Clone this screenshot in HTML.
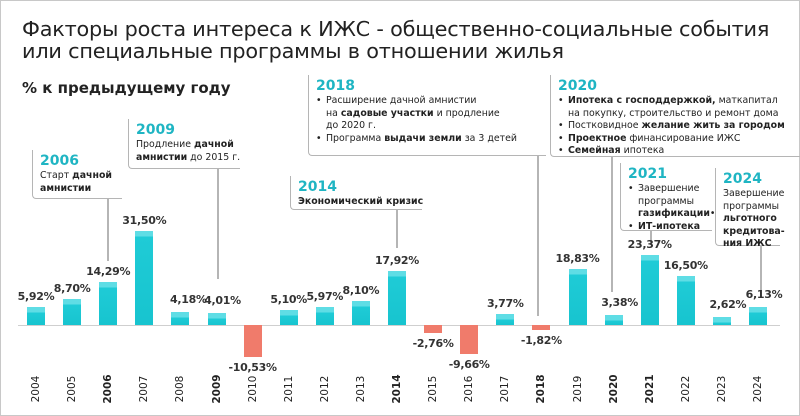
<!DOCTYPE html>
<html><head><meta charset="utf-8"><style>
body{margin:0;width:800px;height:416px;overflow:hidden;background:#fff;font-family:"Liberation Sans","DejaVu Sans",sans-serif;color:#222;position:relative}
.frame{position:absolute;left:0;top:0;width:798px;height:414px;border:1px solid #c8c8c8}
.t{position:absolute;white-space:nowrap}
.box{position:absolute;border-left:1.5px solid #b5b5b5;border-bottom:1.5px solid #b5b5b5;border-bottom-left-radius:4px;box-sizing:border-box;padding:3px 0 0 7px;font-family:"DejaVu Sans",sans-serif;font-size:9.4px;line-height:12.5px;color:#222;white-space:nowrap}
.box .y{color:#1fb5c3;font-weight:bold;font-size:14px;line-height:17px}
.stem{position:absolute;width:1.5px;background:#b5b5b5}
.bar{position:absolute;width:18px}
.pos{background:linear-gradient(#5fdde5 0,#5fdde5 5px,#1fcbd6 6px,#17c4cf)}
.neg{background:#f07b6b}
.val{position:absolute;font-family:"DejaVu Sans",sans-serif;font-weight:bold;font-size:11px;color:#333;width:70px;text-align:center;letter-spacing:-0.3px}
.yr{position:absolute;font-family:"DejaVu Sans",sans-serif;font-size:10.5px;color:#222;transform:rotate(-90deg);transform-origin:center;width:40px;text-align:center}
ul{margin:0;padding:0;list-style:none}
li{position:relative;padding-left:10px}
li:before{content:"•";position:absolute;left:0}
</style></head><body>
<div class="frame"></div>
<div class="t" style="left:22px;top:18px;font-size:20.8px;line-height:22px;color:#222;font-family:'DejaVu Sans',sans-serif;letter-spacing:-0.2px">Факторы роста интереса к ИЖС - общественно-социальные события<br>или специальные программы в отношении жилья</div>
<div class="t" style="left:22px;top:79px;font-size:15px;font-weight:bold;font-family:'DejaVu Sans',sans-serif">% к предыдущему году</div>

<div class="box" style="left:32px;top:150px;width:90px;height:49px"><div class="y">2006</div>Старт <b>дачной<br>амнистии</b></div>
<div class="stem" style="left:107px;top:199px;height:62px"></div>
<div class="box" style="left:128px;top:119px;width:112px;height:50px"><div class="y">2009</div>Продление <b>дачной<br>амнистии</b> до 2015 г.</div>
<div class="stem" style="left:217px;top:169px;height:110px"></div>
<div class="box" style="left:290px;top:176px;width:132px;height:34px"><div class="y">2014</div><b>Экономический кризис</b></div>
<div class="stem" style="left:396px;top:210px;height:38px"></div>
<div class="box" style="left:308px;top:75px;width:238px;height:81px"><div class="y">2018</div><ul><li>Расширение дачной амнистии<br>на <b>садовые участки</b> и продление<br>до 2020 г.</li><li>Программа <b>выдачи земли</b> за 3 детей</li></ul></div>
<div class="stem" style="left:537px;top:156px;height:160px"></div>
<div class="box" style="left:550px;top:75px;width:250px;height:82px"><div class="y">2020</div><ul><li><b>Ипотека с господдержкой,</b> маткапитал<br>на покупку, строительство и ремонт дома</li><li>Постковидное <b>желание жить за городом</b></li><li><b>Проектное</b> финансирование ИЖС</li><li><b>Семейная</b> ипотека</li></ul></div>
<div class="stem" style="left:611px;top:157px;height:135px"></div>
<div class="box" style="left:620px;top:163px;width:92px;height:68px"><div class="y">2021</div><ul><li>Завершение<br>программы<br><b>газификации</b>•</li><li><b>ИТ-ипотека</b></li></ul></div>
<div class="stem" style="left:650px;top:231px;height:14px"></div>
<div class="box" style="left:715px;top:168px;width:65px;height:78px"><div class="y">2024</div>Завершение<br>программы<br><b>льготного<br>кредитова-<br>ния ИЖС</b></div>
<div class="stem" style="left:760px;top:246px;height:45px"></div>

<div style="position:absolute;left:18px;top:325px;width:762px;height:1px;background:#cfcfcf"></div>
<div id="c"></div>
<script>
var d=[[2004,5.92,"5,92%"],[2005,8.70,"8,70%"],[2006,14.29,"14,29%",1],[2007,31.5,"31,50%"],[2008,4.18,"4,18%"],[2009,4.01,"4,01%",1],[2010,-10.53,"-10,53%"],[2011,5.10,"5,10%"],[2012,5.97,"5,97%"],[2013,8.10,"8,10%"],[2014,17.92,"17,92%",1],[2015,-2.76,"-2,76%"],[2016,-9.66,"-9,66%"],[2017,3.77,"3,77%"],[2018,-1.82,"-1,82%",1],[2019,18.83,"18,83%"],[2020,3.38,"3,38%",1],[2021,23.37,"23,37%",1],[2022,16.5,"16,50%"],[2023,2.62,"2,62%"],[2024,6.13,"6,13%"]];
var h="",B=325,k=3.0;
var lx={2008:8,2009:6,2020:6,2023:6,2024:6};
d.forEach(function(r,i){var x=27+36.1*i,v=r[1],hh=Math.abs(v)*k;
if(v>=0){h+='<div class="bar pos" style="left:'+x+'px;top:'+(B-hh)+'px;height:'+hh+'px"></div>';
var off=lx[r[0]]||0;h+='<div class="val" style="left:'+(x-26+off)+'px;top:'+(B-hh-17-(off?2:0))+'px">'+r[2]+'</div>';}
else{h+='<div class="bar neg" style="left:'+x+'px;top:'+B+'px;height:'+hh+'px"></div>';
h+='<div class="val" style="left:'+(x-26)+'px;top:'+(B+hh+4)+'px">'+r[2]+'</div>';}
h+='<div class="yr" style="left:'+(x-11)+'px;top:383px;'+(r[3]?'font-weight:bold':'')+'">'+r[0]+'</div>';});
document.getElementById('c').innerHTML=h;
</script>
</body></html>
